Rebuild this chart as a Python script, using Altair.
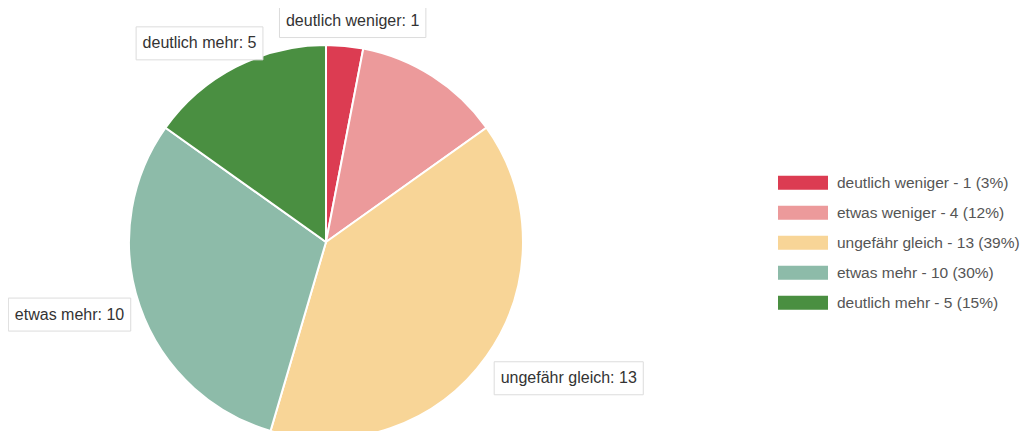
import altair as alt
import pandas as pd

# ---- data ----
categories = ["deutlich weniger", "etwas weniger", "ungefähr gleich", "etwas mehr", "deutlich mehr"]
values = [1, 4, 13, 10, 5]
colors = ["#dc3c52", "#ec9a9b", "#f8d597", "#8dbba9", "#4a8f41"]
show_label = [True, False, True, True, True]

# ---- layout ----
CX, CY, R = 318, 234, 197
RL = 228
label_nudge_x = [5, 0, 57, -41, -22]
label_nudge_y = [6, 0, 4, -2, 4]
FONT = "Liberation Sans"
FS = 16
LEG_FS = 15.5

# approximate Arial widths (per 1000 em)
W = {c: 556 for c in "abdeghnopqu0123456789ä"}
W.update({"c": 500, "f": 278, "i": 222, "j": 222, "k": 500, "l": 222, "m": 833, "r": 333,
          "s": 500, "t": 278, "v": 500, "w": 722, "x": 500, "y": 500, "z": 500, " ": 278,
          ":": 278, "-": 333, "(": 333, ")": 333, "%": 889})


def text_w(s):
    return sum(W.get(ch, 556) for ch in s) * FS / 1000.0


total = sum(values)
rows = []
for i, (c, v) in enumerate(zip(categories, values)):
    pct = round(100 * v / total)
    lab = f"{c}: {v}"
    rows.append({
        "idx": i, "cat": c, "value": v,
        "legend": f"{c} - {v} ({pct}%)",
        "label": lab,
        "show": show_label[i],
        "bw": text_w(lab) + 13,
        "nx": label_nudge_x[i], "ny": label_nudge_y[i],
    })
df = pd.DataFrame(rows)
legend_labels = list(df["legend"])

base = alt.Chart(df)

arc = base.mark_arc(outerRadius=R, stroke="white", strokeWidth=2).encode(
    theta=alt.Theta("value:Q", stack=True),
    order=alt.Order("idx:Q"),
    color=alt.Color(
        "legend:N",
        scale=alt.Scale(domain=legend_labels, range=colors),
        sort=legend_labels,
        legend=alt.Legend(
            title=None, orient="none", legendX=770, legendY=161,
            symbolType="M-1,-0.28H1V0.28H-1Z", symbolSize=2500,
            symbolStrokeWidth=0, labelFont=FONT, labelFontSize=LEG_FS,
            labelColor="#555", rowPadding=2, clipHeight=27.5,
            labelOffset=9, labelLimit=0,
        ),
    ),
    x=alt.value(CX), y=alt.value(CY),
)

lab_base = base.transform_window(
    cum="sum(value)", sort=[alt.SortField("idx")], frame=[None, 0]
).transform_joinaggregate(tot="sum(value)").transform_calculate(
    mid="(datum.cum - datum.value/2) / datum.tot * 2 * PI",
).transform_calculate(
    lx=f"{CX} + {RL} * sin(datum.mid) + datum.nx",
    ly=f"{CY} - {RL} * cos(datum.mid) + datum.ny",
).transform_calculate(
    x1="datum.lx - datum.bw/2", x2="datum.lx + datum.bw/2",
    y1="datum.ly - 16.5", y2="datum.ly + 16.5",
).transform_filter("datum.show")

boxes = lab_base.mark_rect(fill="white", stroke="#dcdcdc", strokeWidth=1).encode(
    x=alt.X("x1:Q", scale=None), x2="x2:Q",
    y=alt.Y("y1:Q", scale=None), y2="y2:Q",
)

texts = lab_base.mark_text(font=FONT, fontSize=FS, color="#333", align="center", baseline="middle").encode(
    x=alt.X("lx:Q", scale=None), y=alt.Y("ly:Q", scale=None), text="label:N",
)

chart = alt.layer(arc, boxes, texts).properties(
    width=1014, height=423, padding=0,
    autosize=alt.AutoSizeParams(type="none"),
).configure_view(stroke=None)

chart.save("out.html", embed_options={"renderer": "svg", "actions": False})
